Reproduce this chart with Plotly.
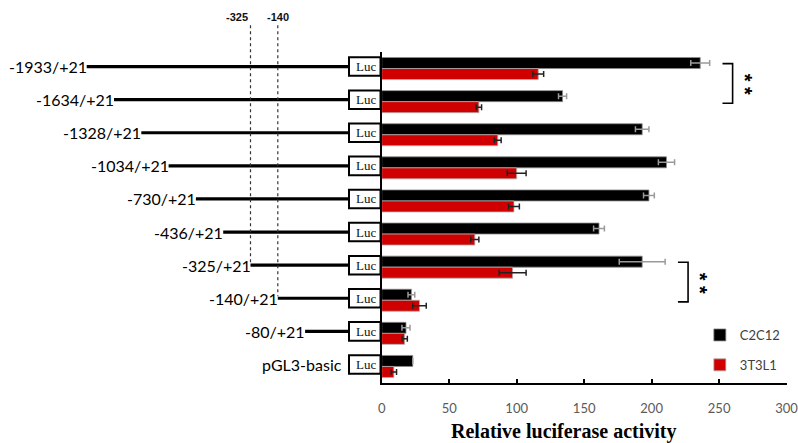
import plotly.graph_objects as go

# ---------------- data ----------------
constructs = ["-1933/+21", "-1634/+21", "-1328/+21", "-1034/+21", "-730/+21",
              "-436/+21", "-325/+21", "-140/+21", "-80/+21", "pGL3-basic"]
promoter_start = [-1933, -1634, -1328, -1034, -730, -436, -325, -140, -80, None]
c2c12 = [236, 134, 193, 211, 198, 161, 193, 22, 18, 23]
c2c12_err = [7, 3, 5, 6, 4, 4, 17, 2.5, 3, 0]
t3l1 = [116, 72, 86, 100, 98, 69, 97, 28, 17, 9]
t3l1_err = [4, 2, 2.5, 7, 4, 3, 10, 5, 2, 2]
marked_sites = [-325, -140]
significance_pairs = [("-1933/+21", "-1634/+21"), ("-325/+21", "-140/+21")]
series_names = ["C2C12", "3T3L1"]
x_ticks = [0, 50, 100, 150, 200, 250, 300]

# ---------------- layout constants ----------------
W, H = 798, 443
X0_PX, X1_PX = 381.7, 786.6          # main plot horizontal extent
Y_TOP_PX, Y_BOT_PX = 52, 383          # main plot vertical extent
xd = [X0_PX / W, X1_PX / W]
yd = [(H - Y_BOT_PX) / H, (H - Y_TOP_PX) / H]
n = len(constructs)
unit = (yd[1] - yd[0]) / n           # paper per category row
y2_range = [n - 0.5 + yd[0] / unit, -0.5 - (1 - yd[1]) / unit]

STAIR0_PX, STAIR_STEP_PX = 86.7, 27.3
x2_range = [-STAIR0_PX / STAIR_STEP_PX, (X0_PX - STAIR0_PX) / STAIR_STEP_PX]
BOX_X0 = (349 - STAIR0_PX) / STAIR_STEP_PX
BOX_X1 = (380.5 - STAIR0_PX) / STAIR_STEP_PX
ROW_SHIFT = -0.06
BOX_HALF = 0.28

LABEL_FONT = dict(family="Lato, Liberation Sans, sans-serif", size=16, color="#000000")

fig = go.Figure()

# bars
fig.add_trace(go.Bar(
    name=series_names[0], y=constructs, x=c2c12, orientation="h",
    marker=dict(color="#000000", line=dict(color="#8c8c8c", width=0.8)),
    error_x=dict(type="data", array=c2c12_err, color="#9a9a9a", thickness=1.5, width=3),
    legendgroup="a",
))
fig.add_trace(go.Bar(
    name=series_names[1], y=constructs, x=t3l1, orientation="h",
    marker=dict(color="#d00000", line=dict(color="#b0b0b0", width=0.8)),
    error_x=dict(type="data", array=t3l1_err, color="#222222", thickness=1.5, width=3),
    legendgroup="b",
))

# schematic promoter lines
lx, ly = [], []
for i, s in enumerate(promoter_start):
    if s is None:
        continue
    lx += [i, BOX_X0, None]
    ly += [i + ROW_SHIFT, i + ROW_SHIFT, None]
fig.add_trace(go.Scatter(x=lx, y=ly, xaxis="x2", yaxis="y2", mode="lines",
                         line=dict(color="#000000", width=3.2),
                         showlegend=False, hoverinfo="skip"))

# dotted site markers
dx, dy = [], []
for site in marked_sites:
    i = promoter_start.index(site)
    dx += [i, i, None]
    dy += [-1.31, i - 0.12, None]
fig.add_trace(go.Scatter(x=dx, y=dy, xaxis="x2", yaxis="y2", mode="lines",
                         line=dict(color="#333333", width=1.2, dash="dot"),
                         showlegend=False, hoverinfo="skip"))

shapes = []
annotations = []

# Luc boxes and construct labels
for i, name in enumerate(constructs):
    yc = i + ROW_SHIFT
    shapes.append(dict(type="rect", xref="x2", yref="y2",
                       x0=BOX_X0, x1=BOX_X1, y0=yc - BOX_HALF, y1=yc + BOX_HALF,
                       line=dict(color="#000000", width=2), fillcolor="white"))
    annotations.append(dict(xref="x2", yref="y2", x=(BOX_X0 + BOX_X1) / 2, y=yc,
                            text="Luc", showarrow=False, xanchor="center", yanchor="middle",
                            xshift=1,
                            font=dict(family="Liberation Serif, serif", size=13, color="#111")))
    if promoter_start[i] is not None:
        annotations.append(dict(xref="x2", yref="y2", x=i, y=yc, text=name,
                                showarrow=False, xanchor="right", yanchor="middle",
                                xshift=2, font=LABEL_FONT))
    else:
        annotations.append(dict(xref="x2", yref="y2", x=BOX_X0, y=yc, text=name,
                                showarrow=False, xanchor="right", yanchor="middle",
                                xshift=-5, font=LABEL_FONT))

# site labels
for site, anchor in zip(marked_sites, ["right", "center"]):
    i = promoter_start.index(site)
    annotations.append(dict(xref="x2", yref="y2", x=i, y=-1.55, text=f"<b>{site}</b>",
                            showarrow=False, xanchor=anchor, yanchor="middle",
                            xshift=(-1 if anchor == "right" else 0),
                            font=dict(family="Liberation Sans, Arial, sans-serif",
                                      size=11, color="#111")))

# significance brackets
for a, b in significance_pairs:
    ia, ib = constructs.index(a), constructs.index(b)
    top = max(max(c2c12[k] + c2c12_err[k], t3l1[k] + t3l1_err[k]) for k in range(ia, ib + 1))
    bx = top + 17
    ya, yb = ia - 0.15, ib + 0.05
    shapes.append(dict(type="path", xref="x", yref="y",
                       path=f"M {bx-7.5},{ya} L {bx},{ya} L {bx},{yb} L {bx-7.5},{yb}",
                       line=dict(color="#000000", width=1.6)))
    ym = (ya + yb) / 2
    annotations.append(dict(xref="x", yref="y", x=bx + 12, y=ym, text="<b>* *</b>",
                            showarrow=False, xanchor="center", yanchor="middle",
                            textangle=90, xshift=-4, yshift=-1,
                            font=dict(family="Liberation Sans, Arial, sans-serif",
                                      size=20, color="#000")))

# x axis title
annotations.append(dict(xref="paper", yref="paper", x=563 / W, y=(H - 431.5) / H,
                        text="<b>Relative luciferase activity</b>", showarrow=False,
                        xanchor="center", yanchor="middle",
                        font=dict(family="Liberation Serif, Times New Roman, serif",
                                  size=20, color="#000")))

fig.update_layout(
    width=W, height=H,
    margin=dict(l=0, r=0, t=0, b=0, autoexpand=False),
    paper_bgcolor="white", plot_bgcolor="white",
    barmode="group", bargap=0.335, bargroupgap=0,
    xaxis=dict(domain=xd, range=[0, 300], tickvals=x_ticks, showgrid=False, zeroline=False,
               showline=True, linecolor="#000", linewidth=2, automargin=False,
               ticks="inside", ticklen=4, tickwidth=1.5, tickcolor="#000",
               ticklabelstandoff=12, ticklabeloverflow="allow",
               tickfont=dict(family="Lato, sans-serif", size=13, color="#5a5a5a"),
               anchor="y"),
    yaxis=dict(domain=yd, type="category", categoryorder="array", categoryarray=constructs,
               range=[n - 0.5, -0.5], showticklabels=False, ticks="", showgrid=False,
               zeroline=False, showline=True, linecolor="#000", linewidth=2, anchor="x",
               automargin=False),
    xaxis2=dict(domain=[0, xd[0]], range=x2_range, visible=False, anchor="y2",
                automargin=False),
    yaxis2=dict(domain=[0, 1], range=y2_range, visible=False, anchor="x2",
                automargin=False),
    shapes=shapes,
    annotations=annotations,
    showlegend=True,
    legend=dict(x=0.877, y=(H - 320) / H, xanchor="left", yanchor="top",
                tracegroupgap=10, bgcolor="rgba(0,0,0,0)",
                font=dict(family="Lato, sans-serif", size=13, color="#404040")),
)

fig.write_html("out.html", config={"displayModeBar": False},
               post_script="document.body.style.margin='0';")
